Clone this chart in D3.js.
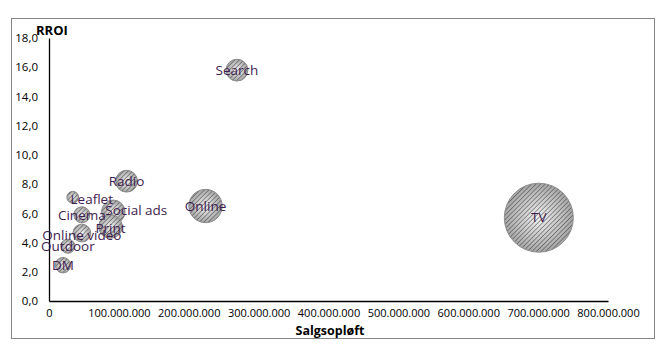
<!DOCTYPE html>
<html><head><meta charset="utf-8">
<script src="https://cdn.jsdelivr.net/npm/d3@7"></script>
<style>body{margin:0;background:#fff}svg{display:block}text{font-family:"Open Sans",sans-serif}</style>
</head><body>
<script>
const labels = ["TV","Search","Online","Radio","Social ads","Print","Leaflet","Cinema","Online video","Outdoor","DM"];
const salgsloeft = [701e6, 269e6, 224e6, 111e6, 92e6, 88e6, 34e6, 47e6, 47e6, 27e6, 20e6];
const rroi = [5.7, 15.8, 6.5, 8.2, 6.1, 5.1, 7.1, 5.9, 4.65, 3.75, 2.45];
const bubbleSize = [120, 12, 28, 12, 14, 14, 3.5, 6.5, 8, 5, 6];
const labelDx = [0, 0, 0, 0, 23, 0, 19, 0, 0, 0, 0];
const labelDy = [0, 0, 0, 0, -2, 2, 2, 0, 2, 0, 0];
const xTicks = [0,100e6,200e6,300e6,400e6,500e6,600e6,700e6,800e6];
const yTicks = [0,2,4,6,8,10,12,14,16,18];

const W=662,H=363;
const svg=d3.select("body").append("svg").attr("width",W).attr("height",H);
const defs=svg.append("defs");
const rg=defs.append("radialGradient").attr("id","rg").attr("cx","50%").attr("cy","50%").attr("r","50%");
rg.append("stop").attr("offset","0%").attr("stop-color","#f2f2f2");
rg.append("stop").attr("offset","100%").attr("stop-color","#a6a6a6");
const pat=defs.append("pattern").attr("id","hatch").attr("patternUnits","userSpaceOnUse")
  .attr("width",3.2).attr("height",3.2).attr("patternTransform","rotate(45)");
pat.append("line").attr("x1",0).attr("y1",0).attr("x2",0).attr("y2",3.2).attr("stroke","#404040").attr("stroke-width",1);

svg.append("rect").attr("x",11.5).attr("y",18.5).attr("width",643).attr("height",320)
  .attr("fill","#fff").attr("stroke","#868686");

const x=d3.scaleLinear().domain([0,800e6]).range([49,608]);
const y=d3.scaleLinear().domain([0,18]).range([301,38]);
const r=d3.scaleSqrt().domain([0,120]).range([0,34.5]);

const fmt=v=>v===0?"0":d3.format(",.0f")(v).replace(/,/g,".");
const xAxis=svg.append("g").attr("transform","translate(0,301)")
  .call(d3.axisBottom(x).tickValues(xTicks).tickSize(0).tickPadding(8).tickFormat(fmt));
const yAxis=svg.append("g").attr("transform","translate(49,0)")
  .call(d3.axisLeft(y).tickValues(yTicks).tickSize(0).tickPadding(11).tickFormat(d=>d3.format(".1f")(d).replace(".",",")));
[xAxis,yAxis].forEach(g=>{g.select(".domain").attr("stroke","#000").attr("stroke-width",1.3);
  g.selectAll("text").attr("fill","#000").style("font-family","'Open Sans',sans-serif");});
xAxis.selectAll("text").attr("font-size",11);
yAxis.selectAll("text").attr("font-size",11.5);

svg.append("text").attr("x",36).attr("y",35).attr("font-size",13).attr("font-weight","bold").text("RROI");
svg.append("text").attr("x",330).attr("y",334.5).attr("text-anchor","middle").attr("font-size",12.5).attr("font-weight","bold").text("Salgsopløft");

const idx=d3.range(labels.length).sort((a,b)=>bubbleSize[b]-bubbleSize[a]);
const g=svg.append("g");
idx.forEach(i=>{
  g.append("circle").attr("cx",x(salgsloeft[i])).attr("cy",y(rroi[i])).attr("r",r(bubbleSize[i]))
    .attr("fill","url(#rg)");
  g.append("circle").attr("cx",x(salgsloeft[i])).attr("cy",y(rroi[i])).attr("r",r(bubbleSize[i]))
    .attr("fill","url(#hatch)").attr("stroke","#8c8c8c").attr("stroke-width",1);
});
idx.forEach(i=>{
  svg.append("text").attr("x",x(salgsloeft[i])+labelDx[i]).attr("y",y(rroi[i])+labelDy[i])
    .attr("dy","0.35em").attr("text-anchor","middle").attr("font-size",13.5).attr("fill","#3f1d4f").text(labels[i]);
});
</script>
</body></html>
